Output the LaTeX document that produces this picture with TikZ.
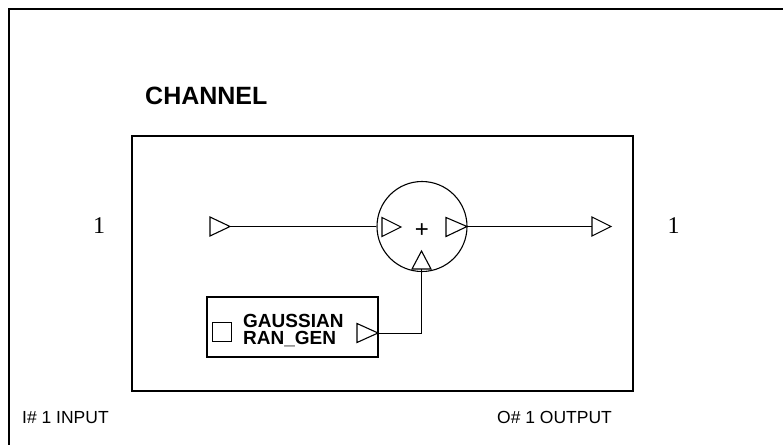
\documentclass[tikz,border=0pt]{standalone}
\usepackage{fontspec}
\setmainfont{Liberation Serif}
\newfontfamily\lsans{Liberation Sans}
\usetikzlibrary{calc}
\tikzset{
  wire/.style={line width=1pt},
  frame/.style={line width=1.1pt},
  porttri/.style={line width=1.1pt, line join=miter},
  boldlabel/.style={font=\lsans\bfseries, inner sep=0pt},
  thinlabel/.style={font=\lsans\fontsize{17.5}{19}\selectfont, inner sep=0pt, anchor=base west},
  numlabel/.style={font=\fontsize{24}{26}\selectfont, inner sep=0pt, anchor=base},
  genfont/.style={inner sep=0pt, anchor=base west, font=\lsans\bfseries\fontsize{19}{18}\selectfont},
}
\begin{document}
\begin{tikzpicture}[x=1pt,y=-1pt]
\useasboundingbox (0,0) rectangle (783,444);
% outer frame
\draw[frame] (9,450) -- (9,9) -- (790,9);
% channel title
\node[boldlabel, anchor=base west, font=\lsans\bfseries\fontsize{25}{28}\selectfont] (title) at (145,104) {CHANNEL};
% channel box
\draw[frame] (132,136) rectangle (633,391);
% summing junction
\node[draw, circle, minimum size=90pt, inner sep=0pt, line width=1.1pt] (sum) at (422,226.5) {};
\node[font=\lsans\fontsize{24}{26}\selectfont, inner sep=0pt] (plus) at (422,231) {+};
% input port
\coordinate (intip) at (230,226.5);
\draw[porttri] (210,217) -- (intip) -- (210,236) -- cycle;
% summer input left
\draw[porttri] (382,217.5) -- (401,227) -- (382,236.5) -- cycle;
% summer output
\coordinate (sout) at (467,226.5);
\draw[porttri] (446,217.5) -- (sout) -- (446,236.5) -- cycle;
% summer bottom input
\coordinate (sbot) at (421.5,269);
\draw[porttri] (412,269) -- (421.5,251) -- (431,269) -- cycle;
% output port
\coordinate (outbase) at (592,226.5);
\draw[porttri] (592,217) -- (611,226.5) -- (592,236) -- cycle;
% generator
\draw[frame] (207,297) rectangle (378,357);
\draw[line width=0.9pt] (212,322) rectangle (231,341);
\node[genfont] (gen1) at (243,327) {GAUSSIAN};
\node[genfont] (gen2) at (243,344.5) {RAN\_GEN};
\coordinate (gentip) at (378,333);
\draw[porttri] (357,323.5) -- (gentip) -- (357,342.5) -- cycle;
% wires
\draw[wire] (intip) -- (sum.west);
\draw[wire] (sout) -- (outbase);
\draw[wire] (sbot) |- (gentip);
% labels
\node[numlabel] (lin) at (99,233) {1};
\node[numlabel] (lout) at (673.5,233) {1};
\node[thinlabel] (inlab) at (22,423) {I\# 1 INPUT};
\node[thinlabel] (outlab) at (497,423) {O\# 1 OUTPUT};
\end{tikzpicture}
\end{document}
